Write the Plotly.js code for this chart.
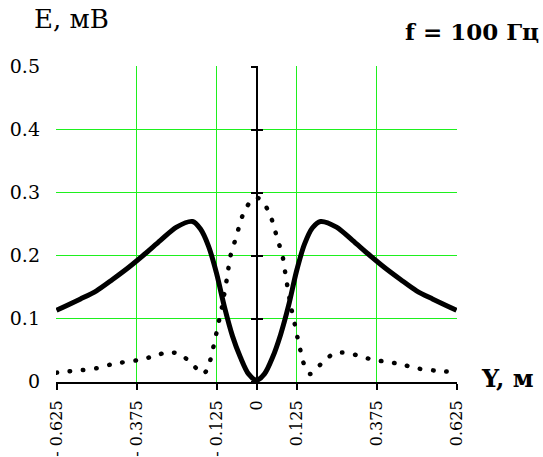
<!DOCTYPE html>
<html>
<head>
<meta charset="utf-8">
<script src="https://cdn.plot.ly/plotly-3.0.1.min.js"></script>
<style>html,body{margin:0;padding:0;background:#fff;}</style>
</head>
<body>
<div id="chart" style="width:543px;height:457px;"></div>
<script>
// Solid curve
const solidX = [-0.625,-0.55,-0.5,-0.45,-0.4,-0.35,-0.3,-0.25,-0.2,-0.175,-0.15,-0.125,-0.1,-0.075,-0.05,-0.025,0,
                0.025,0.05,0.075,0.1,0.125,0.15,0.175,0.2,0.25,0.3,0.35,0.4,0.45,0.5,0.55,0.625];
const solidY = [0.113,0.131,0.144,0.162,0.181,0.202,0.224,0.245,0.254,0.242,0.215,0.172,0.118,0.072,0.038,0.012,0.002,
                0.012,0.038,0.074,0.12,0.175,0.218,0.244,0.254,0.245,0.224,0.202,0.181,0.162,0.144,0.131,0.113];
// Dotted curve
const dotX = [-0.625,-0.59,-0.545,-0.5,-0.455,-0.41,-0.37,-0.33,-0.29,-0.265,-0.24,-0.2,-0.168,-0.158,-0.146,-0.137,-0.128,-0.12,-0.108,-0.093,-0.081,-0.068,-0.056,-0.043,-0.02,0,
              0.02,0.043,0.056,0.068,0.081,0.093,0.108,0.12,0.128,0.137,0.146,0.158,0.168,0.2,0.24,0.265,0.29,0.33,0.37,0.41,0.455,0.5,0.545,0.59,0.625];
const dotY = [0.014,0.016,0.018,0.021,0.027,0.031,0.034,0.039,0.045,0.046,0.044,0.027,0.012,0.016,0.031,0.050,0.070,0.090,0.118,0.162,0.200,0.222,0.243,0.264,0.285,0.292,
              0.285,0.264,0.243,0.222,0.200,0.162,0.118,0.090,0.070,0.050,0.031,0.016,0.012,0.027,0.044,0.046,0.045,0.039,0.034,0.031,0.027,0.021,0.018,0.016,0.014];
const xTickVals = [-0.625,-0.375,-0.125,0,0.125,0.375,0.625];
const xTickText = ["- 0.625","- 0.375","- 0.125","0","0.125","0.375","0.625"];
const yTickVals = [0,0.1,0.2,0.3,0.4,0.5];
const yTickText = ["0","0.1","0.2","0.3","0.4","0.5"];

const GREEN = "#1ef01e";
const FONT = "DejaVu Serif";
const XPAD = 1.25 / 400 / 2;
const YPAD = 0.5 / 315 / 2;

const traces = [
  {x: solidX, y: solidY, mode: "lines", line: {color: "#000", width: 5, shape: "spline", smoothing: 0.8}, yaxis: "y", hoverinfo: "skip"},
  {x: dotX, y: dotY, mode: "lines", line: {color: "#000", width: 4.5, shape: "spline", smoothing: 0.8, dash: "0.5px,12.8px"}, yaxis: "y", hoverinfo: "skip"},
  {x: [], y: [], mode: "lines", yaxis: "y2", showlegend: false},
  {x: [], y: [], mode: "lines", yaxis: "y3", showlegend: false}
];

const centerAxis = {
  overlaying: "y", anchor: "free", position: 0.5, side: "left",
  range: [0 - YPAD, 0.5 + YPAD], autorange: false, tickvals: yTickVals,
  showticklabels: false, showgrid: false, zeroline: false,
  showline: true, linecolor: "#000", linewidth: 2, layer: "below traces",
  tickcolor: "#000", tickwidth: 2, ticklen: 5
};

const layout = {
  width: 543, height: 457,
  margin: {l: 56, r: 86, t: 66, b: 75},
  paper_bgcolor: "#fff", plot_bgcolor: "#fff",
  showlegend: false,
  font: {family: FONT, color: "#000", size: 19},
  xaxis: {
    range: [-0.625 - XPAD, 0.625 + XPAD], autorange: false,
    tickvals: xTickVals, ticktext: xTickText, tickangle: -90,
    tickfont: {family: FONT, size: 16, color: "#000"},
    showgrid: true, gridcolor: GREEN, gridwidth: 1,
    zeroline: false,
    showline: true, linecolor: "#000", linewidth: 2,
    ticks: "outside", ticklen: 6, tickwidth: 2, tickcolor: "#000",
    ticklabelstandoff: 4
  },
  yaxis: {
    range: [0 - YPAD, 0.5 + YPAD], autorange: false,
    tickvals: yTickVals, ticktext: yTickText,
    tickfont: {family: FONT, size: 19, color: "#000"},
    showgrid: true, gridcolor: GREEN, gridwidth: 1,
    zeroline: false, showline: false, ticks: "",
    ticklabelstandoff: 15
  },
  yaxis2: Object.assign({}, centerAxis, {ticks: "outside"}),
  yaxis3: Object.assign({}, centerAxis, {ticks: "inside"}),
  annotations: [
    {text: "E, мВ", xref: "paper", yref: "paper", x: -0.06, y: 1.15, xanchor: "left", yanchor: "middle", showarrow: false,
     font: {family: FONT, size: 26, color: "#000"}},
    {text: "f = 100 Гц", xref: "paper", yref: "paper", x: 1.21, y: 1.11, xanchor: "right", yanchor: "middle", showarrow: false,
     font: {family: FONT, size: 23, color: "#000", weight: "bold"}},
    {text: "Y, м", xref: "paper", yref: "paper", x: 1.055, y: 0.012, xanchor: "left", yanchor: "middle", showarrow: false,
     font: {family: FONT, size: 24, color: "#000", weight: "bold"}}
  ]
};

Plotly.newPlot("chart", traces, layout, {staticPlot: true, displayModeBar: false}).then(function (gd) {
  gd.querySelectorAll("path.js-line").forEach(function (p) {
    const d = p.style.strokeDasharray;
    if (d && d !== "none" && d !== "") p.style.strokeLinecap = "round";
  });
});
</script>
</body>
</html>
